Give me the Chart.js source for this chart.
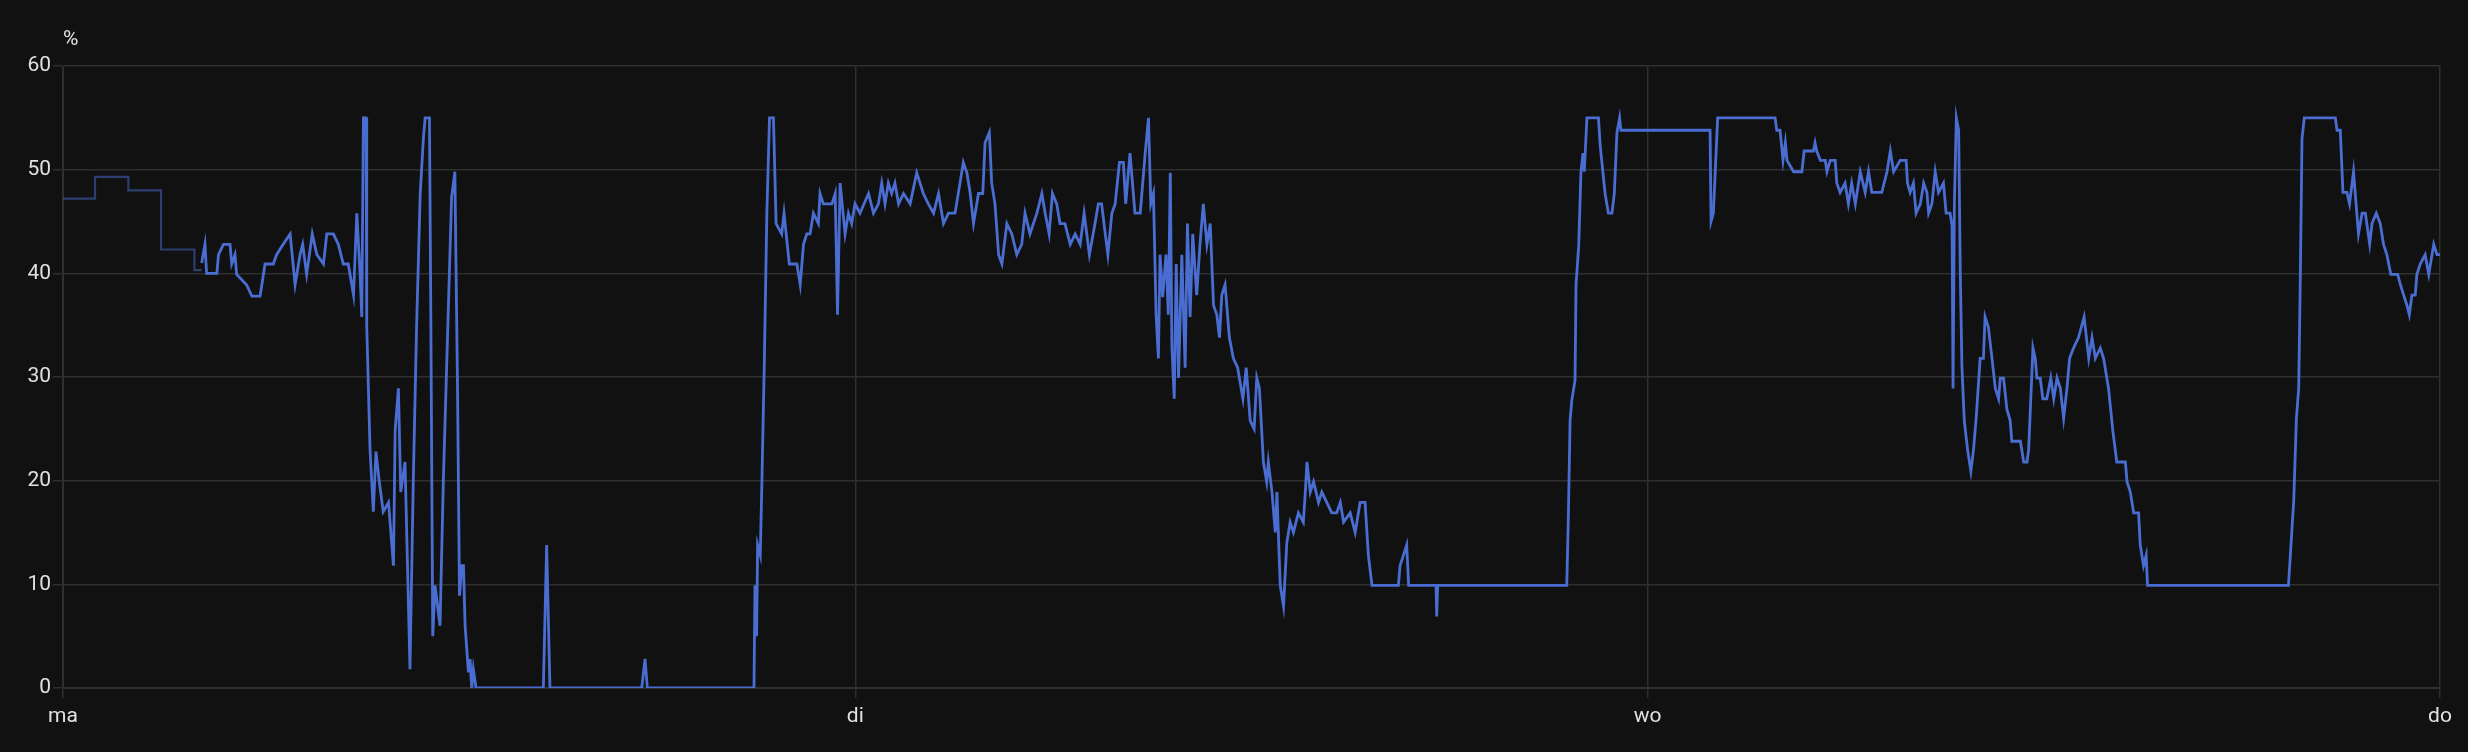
<!DOCTYPE html>
<html>
<head>
    <title>Sensor history</title>
    <style>
        html, body { margin: 0; padding: 0; background: #111111; }
        #wrap { width: 2468px; height: 752px; position: relative; }
    </style>
    <script src="https://cdn.jsdelivr.net/npm/chart.js"></script>
</head>
<body>
<div id="wrap"><canvas id="historyChart"></canvas></div>
<script>
// x values are hours since the start of "ma"
const dayLabels = ['ma', 'di', 'wo', 'do'];
const yTicks = [0, 10, 20, 30, 40, 50, 60];
const unitLabel = '%';

// faded part before the selected period
const dimHours  = [0, 0.97, 1.98, 2.97, 3.98, 4.2];
const dimValues = [47.2, 49.3, 48.0, 42.3, 40.3, 40.3];

const hours = [
    4.20, 4.30, 4.35, 4.66, 4.71, 4.86, 5.06, 5.11, 5.21, 5.26, 5.56, 5.72, 5.97, 6.12, 6.37, 6.47, 6.67, 6.88, 7.03, 7.18,
    7.26, 7.38, 7.55, 7.69, 7.89, 7.99, 8.19, 8.34, 8.49, 8.64, 8.80, 8.90, 9.00, 9.05, 9.10, 9.18, 9.20, 9.30, 9.40, 9.48,
    9.58, 9.70, 9.86, 10.01, 10.06, 10.16, 10.23, 10.36, 10.51, 10.61, 10.71, 10.82, 10.92, 10.97, 11.10, 11.14, 11.20, 11.27, 11.42, 11.52,
    11.62, 11.77, 11.87, 11.95, 12.01, 12.08, 12.13, 12.18, 12.28, 12.33, 12.38, 12.43, 12.51, 14.55, 14.65, 14.75, 17.53, 17.63, 17.70, 20.93,
    20.96, 21.01, 21.04, 21.12, 21.17, 21.24, 21.32, 21.40, 21.52, 21.60, 21.77, 21.84, 22.00, 22.23, 22.33, 22.43, 22.53, 22.63, 22.73, 22.88,
    22.93, 23.03, 23.29, 23.39, 23.46, 23.54, 23.69, 23.79, 23.89, 23.99, 24.14, 24.40, 24.55, 24.70, 24.80, 24.90, 25.00, 25.10, 25.20, 25.31,
    25.46, 25.66, 25.86, 25.96, 26.06, 26.21, 26.37, 26.52, 26.67, 26.82, 27.02, 27.17, 27.27, 27.38, 27.48, 27.58, 27.73, 27.86, 27.93, 28.06,
    28.13, 28.23, 28.34, 28.44, 28.59, 28.74, 28.89, 29.04, 29.14, 29.29, 29.50, 29.65, 29.75, 29.87, 29.97, 30.10, 30.20, 30.35, 30.51, 30.66,
    30.81, 30.93, 31.09, 31.26, 31.36, 31.46, 31.57, 31.65, 31.77, 31.87, 32.00, 32.12, 32.19, 32.32, 32.47, 32.63, 32.78, 32.88, 32.95, 33.03,
    33.11, 33.18, 33.23, 33.31, 33.41, 33.48, 33.54, 33.59, 33.66, 33.72, 33.79, 33.89, 33.99, 34.06, 34.14, 34.22, 34.34, 34.44, 34.54, 34.65,
    34.75, 34.85, 34.95, 35.03, 35.10, 35.20, 35.33, 35.45, 35.58, 35.74, 35.84, 35.96, 36.08, 36.16, 36.24, 36.36, 36.46, 36.51, 36.62, 36.72,
    36.77, 36.87, 36.97, 37.07, 37.17, 37.27, 37.42, 37.57, 37.63, 37.68, 37.78, 37.88, 38.03, 38.13, 38.28, 38.43, 38.58, 38.69, 38.79, 38.99,
    39.14, 39.29, 39.44, 39.54, 39.65, 40.45, 40.50, 40.60, 40.70, 40.76, 41.59, 41.61, 41.64, 45.55, 45.60, 45.65, 45.70, 45.80, 45.83, 45.91,
    45.98, 46.04, 46.08, 46.16, 46.51, 46.56, 46.71, 46.81, 46.92, 46.99, 47.07, 47.15, 47.19, 49.89, 49.92, 49.99, 50.12, 51.86, 51.91, 52.01,
    52.10, 52.17, 52.22, 52.42, 52.67, 52.74, 53.02, 53.07, 53.12, 53.23, 53.38, 53.43, 53.53, 53.68, 53.73, 53.83, 53.98, 54.08, 54.18, 54.29,
    54.44, 54.59, 54.69, 54.79, 55.09, 55.25, 55.35, 55.45, 55.65, 55.83, 55.87, 55.95, 56.05, 56.13, 56.26, 56.36, 56.46, 56.51, 56.61, 56.71,
    56.81, 56.96, 57.04, 57.16, 57.22, 57.25, 57.29, 57.35, 57.42, 57.47, 57.52, 57.59, 57.69, 57.79, 57.87, 57.95, 58.07, 58.17, 58.22, 58.32,
    58.43, 58.53, 58.63, 58.68, 58.78, 58.88, 58.98, 59.03, 59.18, 59.29, 59.39, 59.49, 59.54, 59.67, 59.74, 59.79, 59.89, 59.97, 60.09, 60.21,
    60.30, 60.40, 60.50, 60.60, 60.70, 60.78, 60.90, 61.05, 61.22, 61.36, 61.46, 61.56, 61.71, 61.81, 61.96, 62.09, 62.21, 62.47, 62.52, 62.62,
    62.72, 62.87, 62.92, 63.02, 63.10, 63.14, 67.41, 67.57, 67.65, 67.72, 67.77, 67.82, 67.89, 68.83, 68.88, 68.98, 69.06, 69.18, 69.26, 69.38,
    69.53, 69.64, 69.74, 69.87, 69.94, 70.07, 70.19, 70.29, 70.39, 70.51, 70.72, 70.80, 70.90, 71.00, 71.07, 71.15, 71.25, 71.30, 71.40, 71.55,
    71.66, 71.81, 71.91, 72.00
];

const values = [
    41.0, 42.8, 40.0, 40.0, 41.8, 42.8, 42.8, 40.9, 41.8, 39.9, 38.9, 37.8, 37.8, 40.9, 40.9, 41.8, 42.8, 43.8, 38.9, 41.8,
    42.8, 39.9, 43.8, 41.8, 40.9, 43.8, 43.8, 42.8, 40.9, 40.9, 37.9, 45.8, 39.9, 35.8, 55, 55, 35.0, 23.0, 17.0, 22.8,
    19.9, 17.0, 17.9, 11.8, 24.8, 28.9, 18.9, 21.8, 1.8, 19.9, 34.8, 47.7, 53.2, 55, 55, 36.7, 5.0, 9.9, 6.0, 19.9,
    30.9, 47.3, 49.8, 28.9, 8.9, 11.8, 11.8, 6.0, 1.5, 2.8, 0, 1.8, 0, 0, 13.8, 0, 0, 2.8, 0, 0,
    9.9, 5.0, 13.8, 12.8, 19.9, 30.9, 45.8, 55, 55, 44.8, 43.8, 45.8, 40.9, 40.9, 38.9, 42.8, 43.8, 43.8, 45.8, 44.8,
    47.7, 46.7, 46.7, 47.7, 36.0, 48.7, 43.8, 45.8, 44.8, 46.7, 45.8, 47.7, 45.8, 46.7, 48.7, 46.7, 48.7, 47.7, 48.7, 46.7,
    47.7, 46.7, 49.7, 48.7, 47.7, 46.7, 45.8, 47.7, 44.8, 45.8, 45.8, 48.7, 50.7, 49.7, 47.7, 44.8, 47.7, 47.7, 52.6, 53.6,
    48.7, 46.7, 41.8, 40.9, 44.8, 43.8, 41.8, 42.8, 45.8, 43.8, 45.8, 47.7, 45.8, 43.8, 47.7, 46.7, 44.8, 44.8, 42.8, 43.8,
    42.8, 45.8, 41.8, 44.8, 46.7, 46.7, 43.8, 41.8, 45.8, 46.7, 50.7, 50.7, 46.7, 51.6, 45.8, 45.8, 51.6, 55, 46.7, 47.7,
    36.0, 31.8, 41.8, 37.7, 41.8, 36.0, 49.7, 32.8, 27.9, 40.9, 29.9, 41.8, 30.9, 44.8, 35.8, 43.8, 37.9, 42.8, 46.7, 42.8,
    44.8, 36.9, 36.0, 33.8, 37.9, 38.9, 33.8, 31.8, 30.9, 27.9, 30.9, 25.8, 25.0, 29.9, 28.9, 21.8, 19.9, 21.8, 18.9, 15.0,
    18.9, 9.9, 7.9, 14.0, 16.0, 15.0, 16.9, 16.0, 18.9, 21.8, 18.9, 19.9, 17.9, 18.9, 17.9, 16.9, 16.9, 17.9, 16.0, 16.9,
    15.0, 17.9, 17.9, 12.8, 9.9, 9.9, 11.8, 12.8, 13.8, 9.9, 9.9, 6.9, 9.9, 9.9, 16.9, 25.8, 27.7, 29.7, 38.9, 42.6,
    49.8, 51.6, 49.8, 55, 55, 52.4, 47.7, 45.8, 45.8, 47.7, 53.6, 55, 53.8, 53.8, 45.0, 45.8, 55, 55, 53.8, 53.8,
    50.9, 52.6, 50.9, 49.8, 49.8, 51.8, 51.8, 52.6, 51.8, 50.9, 50.9, 49.8, 50.9, 50.9, 48.7, 47.8, 48.7, 46.7, 48.7, 46.7,
    49.8, 47.8, 49.8, 47.8, 47.8, 49.8, 51.8, 49.8, 50.9, 50.9, 48.7, 47.8, 48.7, 45.8, 46.7, 48.7, 47.8, 45.8, 46.7, 49.8,
    47.8, 48.7, 45.8, 45.8, 44.6, 28.9, 46.7, 55, 53.8, 39.9, 30.9, 25.8, 23.0, 20.9, 23.0, 26.0, 31.8, 31.8, 35.8, 34.8,
    31.8, 28.9, 27.9, 29.9, 29.9, 26.9, 25.8, 23.8, 23.8, 23.8, 21.8, 21.8, 23.0, 32.8, 31.8, 29.9, 29.9, 27.9, 27.9, 29.9,
    27.9, 29.9, 28.9, 26.0, 28.9, 31.8, 32.8, 33.8, 35.8, 31.8, 33.8, 31.8, 32.8, 31.8, 28.9, 24.8, 21.8, 21.8, 19.9, 18.9,
    16.9, 16.9, 13.8, 11.8, 12.8, 9.9, 9.9, 18.1, 26.0, 28.9, 39.9, 53.0, 55, 55, 53.8, 53.8, 47.8, 47.8, 46.7, 49.8,
    43.8, 45.8, 45.8, 42.8, 44.8, 45.8, 44.8, 42.8, 41.8, 39.9, 39.9, 38.9, 37.9, 36.9, 36.0, 37.9, 37.9, 39.9, 40.9, 41.8,
    39.9, 42.8, 41.8, 41.8
];

const textColor = '#e1e1e1';
const gridColor = '#2f2f2f';
const lineColor = '#4a6dd2';
const fontFamily = 'Roboto, "Noto Sans", sans-serif';

const toPoints = (xs, ys) => xs.map((x, i) => ({ x: x, y: ys[i] }));

// unit shown above the y axis
const unitPlugin = {
    id: 'unitLabel',
    afterDraw(chart) {
        const ctx = chart.ctx;
        ctx.save();
        ctx.fillStyle = textColor;
        ctx.font = '21px ' + fontFamily;
        ctx.textAlign = 'left';
        ctx.textBaseline = 'middle';
        ctx.fillText(unitLabel, chart.chartArea.left, 40);
        ctx.restore();
    }
};

const ctx = document.getElementById('historyChart').getContext('2d');
new Chart(ctx, {
    type: 'line',
    data: {
        datasets: [
            {
                data: toPoints(dimHours, dimValues),
                borderColor: 'rgba(74, 109, 210, 0.5)',
                borderWidth: 2.2,
                pointRadius: 0,
                stepped: true
            },
            {
                data: toPoints(hours, values),
                borderColor: lineColor,
                borderWidth: 2.8,
                pointRadius: 0,
                tension: 0
            }
        ]
    },
    options: {
        responsive: true,
        maintainAspectRatio: false,
        animation: false,
        layout: { padding: { top: 66, right: 28, bottom: 0, left: 0 } },
        plugins: {
            legend: { display: false },
            tooltip: { enabled: false }
        },
        scales: {
            x: {
                type: 'linear',
                min: 0,
                max: 72,
                afterBuildTicks(scale) {
                    scale.ticks = dayLabels.map((d, i) => ({ value: i * 24 }));
                },
                afterFit(scale) { scale.height = 64; },
                ticks: {
                    color: textColor,
                    font: { family: fontFamily, size: 21 },
                    padding: 6,
                    maxRotation: 0,
                    autoSkip: false,
                    callback: v => dayLabels[v / 24]
                },
                grid: { color: gridColor, tickLength: 10, lineWidth: 1.5 },
                border: { color: gridColor }
            },
            y: {
                min: 0,
                max: 60,
                afterBuildTicks(scale) {
                    scale.ticks = yTicks.map(v => ({ value: v }));
                },
                afterFit(scale) { scale.width = 63; },
                ticks: {
                    color: textColor,
                    font: { family: fontFamily, size: 21 },
                    padding: 2
                },
                grid: { color: gridColor, tickLength: 10, lineWidth: 1.5 },
                border: { color: gridColor }
            }
        }
    },
    plugins: [unitPlugin]
});
</script>
</body>
</html>
